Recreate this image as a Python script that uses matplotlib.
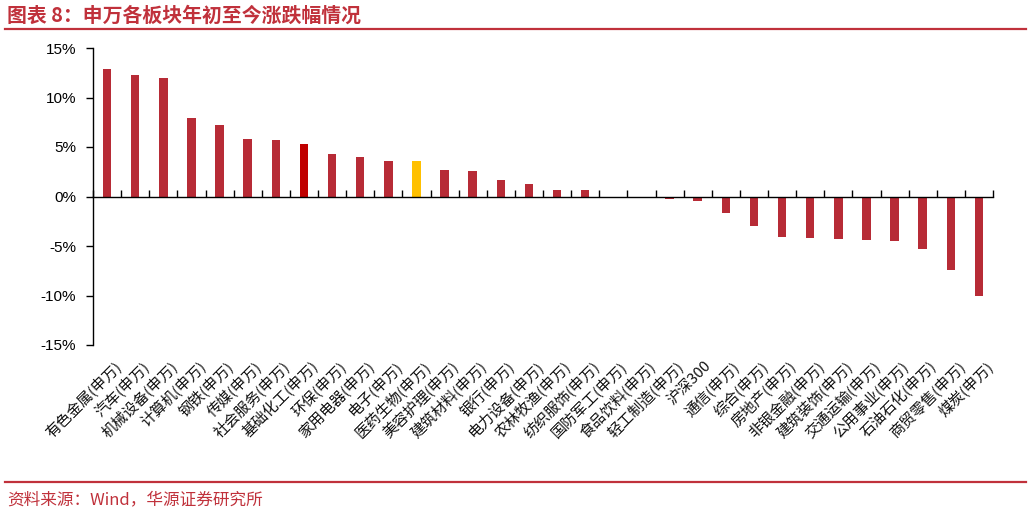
import matplotlib
matplotlib.use("Agg")
import matplotlib.pyplot as plt
from matplotlib.lines import Line2D
import numpy as np

plt.rcParams['font.family'] = ['Noto Sans CJK SC', 'DejaVu Sans']

# 板块名称与年初至今涨跌幅(%)
sectors = ['有色金属(申万)', '汽车(申万)', '机械设备(申万)', '计算机(申万)', '钢铁(申万)',
           '传媒(申万)', '社会服务(申万)', '基础化工(申万)', '环保(申万)', '家用电器(申万)',
           '电子(申万)', '医药生物(申万)', '美容护理(申万)', '建筑材料(申万)', '银行(申万)',
           '电力设备(申万)', '农林牧渔(申万)', '纺织服饰(申万)', '国防军工(申万)', '食品饮料(申万)',
           '轻工制造(申万)', '沪深300', '通信(申万)', '综合(申万)', '房地产(申万)',
           '非银金融(申万)', '建筑装饰(申万)', '交通运输(申万)', '公用事业(申万)', '石油石化(申万)',
           '商贸零售(申万)', '煤炭(申万)']
changes = [12.9, 12.25, 12.0, 7.9, 7.2,
           5.8, 5.7, 5.3, 4.3, 4.0,
           3.6, 3.55, 2.7, 2.6, 1.7,
           1.3, 0.65, 0.65, 0.0, 0.0,
           -0.27, -0.5, -1.7, -2.95, -4.05,
           -4.2, -4.25, -4.35, -4.45, -5.35,
           -7.4, -10.0]
highlight = {'基础化工(申万)': '#C00000', '医药生物(申万)': '#FFC000'}

base_color = '#B72B36'
red = '#C0313B'
colors = [highlight.get(s, base_color) for s in sectors]

fig = plt.figure(figsize=(10.31, 5.15), dpi=100)
ax = fig.add_axes([93 / 1031, 1 - 345 / 515, 900 / 1031, 297 / 515])

x = np.arange(len(sectors))
ax.bar(x, changes, width=0.3, color=colors, zorder=2)

ax.set_xlim(-0.5, len(sectors) - 0.5)
ax.set_ylim(-15, 15)
ax.set_yticks([-15, -10, -5, 0, 5, 10, 15])
ax.set_yticklabels([f'{v}%' for v in [-15, -10, -5, 0, 5, 10, 15]],
                   family='Liberation Sans', fontsize=11)
ax.tick_params(axis='y', direction='out', length=5, width=1, pad=7)

for s in ['top', 'right']:
    ax.spines[s].set_visible(False)
ax.spines['bottom'].set_position(('data', 0))
ax.spines['left'].set_linewidth(1)
ax.spines['bottom'].set_linewidth(1)

# 类别分隔刻度
ax.set_xticks(np.arange(-0.5, len(sectors), 1.0))
ax.tick_params(axis='x', direction='in', length=5, width=1, labelbottom=False)

# 类别标签放在图底部
for i, s in enumerate(sectors):
    ax.text(i + 0.2, -16.3, s, rotation=45, ha='right', va='top',
            rotation_mode='anchor', fontsize=10.8, color='#111111')

# 标题与分隔线
fig.text(7 / 1031, 1 - 15 / 515, '图表 8：申万各板块年初至今涨跌幅情况', color=red,
         fontsize=14.3, fontweight='bold', va='center', ha='left')
fig.add_artist(Line2D([5 / 1031, 1026 / 1031], [1 - 29 / 515] * 2, color=red, lw=1.6))
fig.add_artist(Line2D([5 / 1031, 1026 / 1031], [1 - 481.5 / 515] * 2, color=red, lw=1.6))
fig.text(7 / 1031, 1 - 500 / 515, '资料来源：Wind，华源证券研究所', color=red,
         fontsize=12, va='center', ha='left')

fig.savefig('out.png', dpi=100)
